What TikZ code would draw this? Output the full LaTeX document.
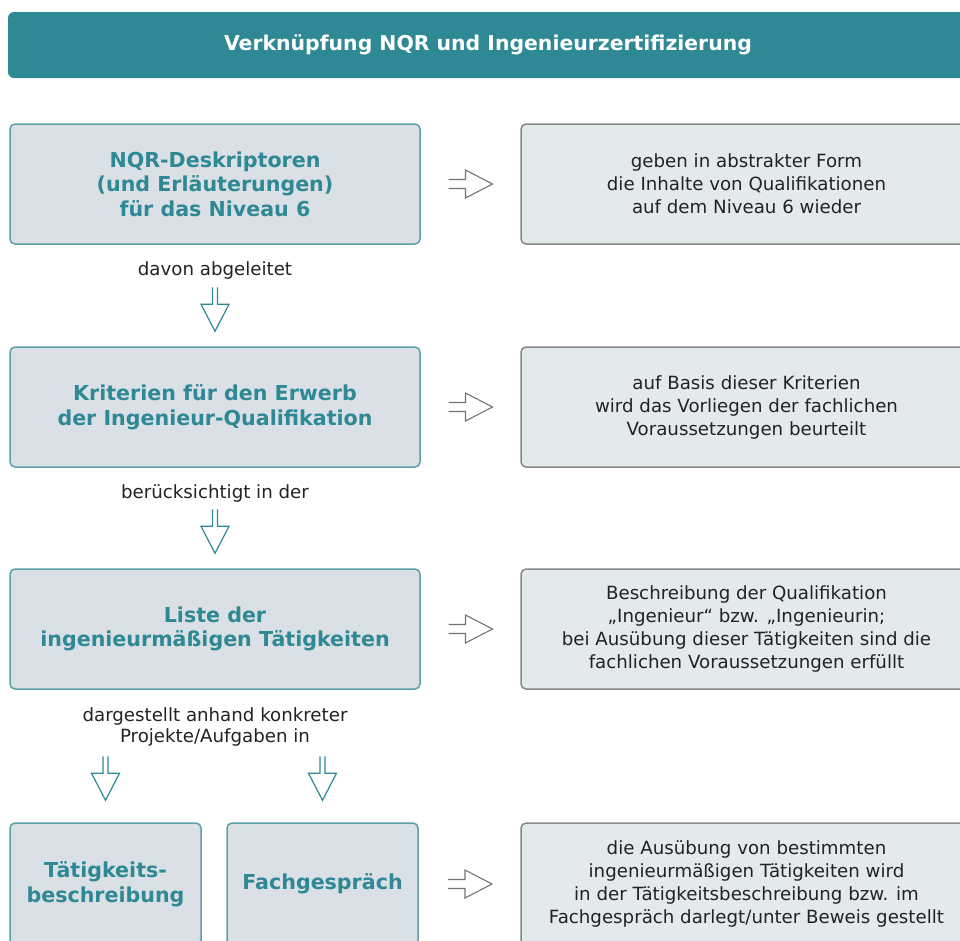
\documentclass[tikz,border=0pt]{standalone}
\usepackage{fontspec}
\setmainfont{DejaVu Sans}
\usetikzlibrary{calc}
\definecolor{teal1}{RGB}{46,137,148}
\definecolor{lfill}{RGB}{218,224,230}
\definecolor{rfill}{RGB}{228,233,236}
\definecolor{lline}{RGB}{92,160,168}
\definecolor{rline}{RGB}{135,135,135}
\definecolor{txt}{RGB}{34,34,34}
\tikzset{
    hollow/.pic = {\draw[pic actions] (-22,#1) -- (-5,#1) -- (-5,14) -- (22,0) -- (-5,-14) -- (-5,-#1) -- (-22,-#1);},
    title/.style = {fill=teal1, rounded corners=6pt, minimum width=960pt, minimum height=66pt,
        text=white, font=\fontsize{20.4}{25}\selectfont\bfseries},
    lbox/.style = {draw=lline, fill=lfill, line width=1.5pt, rounded corners=5pt, minimum width=410pt,
        minimum height=120pt, align=center, text=teal1, font=\fontsize{20.6}{24.5}\selectfont\bfseries},
    rbox/.style = {draw=rline, fill=rfill, line width=1.5pt, rounded corners=5pt, minimum width=451pt,
        minimum height=120pt, align=center, text=txt, font=\fontsize{18.2}{23}\selectfont},
    lab/.style = {align=center, text=txt, font=\fontsize{18.2}{21.5}\selectfont},
    garrow/.style = {draw=rline!85!black, line width=1.1pt},
    tarrow/.style = {draw=teal1, line width=1.2pt},
}
\begin{document}
\begin{tikzpicture}[x=1pt, y=-1pt]
    \useasboundingbox (0,0) rectangle (960,940);
    \node[title] (t) at (488,45) {Verknüpfung NQR und Ingenieurzertifizierung};
    % left column
    \node[lbox] (d1) at (215,184) {NQR-Deskriptoren\\(und Erläuterungen)\\für das Niveau 6};
    \node[lbox] (d2) at (215,407) {Kriterien für den Erwerb\\der Ingenieur-Qualifikation};
    \node[lbox] (d3) at (215,629) {Liste der\\ingenieurmäßigen Tätigkeiten};
    \node[lbox, minimum width=191pt, minimum height=122pt] (d4) at (105.5,884) {Tätigkeits-\\beschreibung};
    \node[lbox, minimum width=191pt, minimum height=122pt] (d5) at (322.5,884) {Fachgespräch};
    % right column
    \node[rbox] (e1) at (746.5,184) {geben in abstrakter Form\\die Inhalte von Qualifikationen\\auf dem Niveau 6 wieder};
    \node[rbox] (e2) at (746.5,407) {auf Basis dieser Kriterien\\wird das Vorliegen der fachlichen\\Voraussetzungen beurteilt};
    \node[rbox] (e3) at (746.5,629) {Beschreibung der Qualifikation\\„Ingenieur“ bzw. „Ingenieurin;\\bei Ausübung dieser Tätigkeiten sind die\\fachlichen Voraussetzungen erfüllt};
    \node[rbox, minimum height=122pt] (e4) at (746.5,884) {die Ausübung von bestimmten\\ingenieurmäßigen Tätigkeiten wird\\in der Tätigkeitsbeschreibung bzw. im\\Fachgespräch darlegt/unter Beweis gestellt};
    % labels
    \node[lab] (l1) at (215,270) {davon abgeleitet};
    \node[lab] (l2) at (215,493) {berücksichtigt in der};
    \node[lab] (l3) at (215,727) {dargestellt anhand konkreter\\Projekte/Aufgaben in};
    % arrows
    \foreach \n in {1,2,3} \pic[garrow] at ($(d\n.east)!.5!(e\n.west)$) {hollow=4.5};
    \pic[garrow] at (470,884) {hollow=4.5};
    \pic[tarrow, rotate=-90] at ([yshift=37]d2.north) {hollow=2.5};
    \pic[tarrow, rotate=-90] at ([yshift=37]d3.north) {hollow=2.5};
    \pic[tarrow, rotate=-90] at ([yshift=44]d4.north) {hollow=2.5};
    \pic[tarrow, rotate=-90] at ([yshift=44]d5.north) {hollow=2.5};
\end{tikzpicture}
\end{document}
